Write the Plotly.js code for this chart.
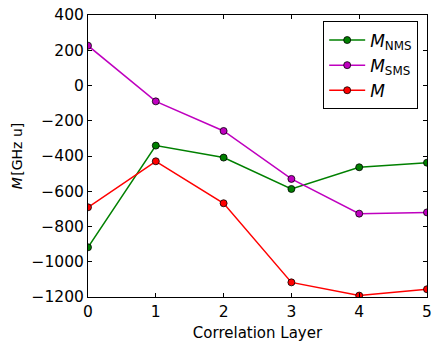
<!DOCTYPE html>
<html>
<head>
<meta charset="utf-8">
<script src="https://cdn.plot.ly/plotly-3.0.1.min.js"></script>
<style>html,body{margin:0;padding:0;background:#fff;}#chart{width:432px;height:342px;}</style>
</head>
<body>
<div id="chart"></div>
<script>
const layers = [0, 1, 2, 3, 4, 5];
const mNMS = [-918, -341, -409, -587, -464, -438];
const mSMS = [226, -90, -258, -530, -727, -720];
const mTotal = [-691, -430, -668, -1117, -1192, -1156];
const xTicks = [0, 1, 2, 3, 4, 5];
const yTicks = [-1200, -1000, -800, -600, -400, -200, 0, 200, 400];

const font = 'DejaVu Sans, sans-serif';
function tr(y, color, name) {
  return {
    x: layers, y: y, name: name, type: 'scatter', mode: 'lines+markers',
    line: {color: color, width: 1.5},
    marker: {symbol: 'circle', size: 7, color: color, line: {color: '#000', width: 0.8}}
  };
}
const data = [
  tr(mNMS, '#008000', '<i>M</i><sub>NMS</sub>'),
  tr(mSMS, '#bf00bf', '<i>M</i><sub>SMS</sub>'),
  tr(mTotal, '#ff0000', '<i>M</i>')
];
const axisCommon = {
  showgrid: false, zeroline: false, showline: true, linecolor: '#000', linewidth: 1,
  mirror: 'ticks', ticks: 'inside', ticklen: 4, tickcolor: '#000', tickwidth: 1,
  tickfont: {family: font, size: 15.5, color: '#000'}
};
const layout = {
  width: 432, height: 342,
  margin: {l: 88, r: 5, t: 15, b: 45},
  paper_bgcolor: '#fff', plot_bgcolor: '#fff',
  font: {family: font, color: '#000'},
  showlegend: true,
  xaxis: Object.assign({}, axisCommon, {
    range: [0, 5], tickvals: xTicks, ticktext: xTicks.map(String),
    title: {text: 'Correlation Layer', font: {family: font, size: 15}, standoff: 9}
  }),
  yaxis: Object.assign({}, axisCommon, {
    range: [-1200, 400], tickvals: yTicks, ticktext: yTicks.map(v => v < 0 ? '\u2212' + Math.abs(v) : String(v)),
    title: {text: '<i>M</i>\u200a[GHz u]', font: {family: font, size: 14}, standoff: 5}
  }),
  legend: {
    x: 0.974, y: 0.977, xanchor: 'right', yanchor: 'top',
    bgcolor: '#fff', bordercolor: '#000', borderwidth: 1,
    font: {family: font, size: 17}, itemwidth: 36
  }
};
Plotly.newPlot('chart', data, layout, {displayModeBar: false, staticPlot: true});
</script>
</body>
</html>
